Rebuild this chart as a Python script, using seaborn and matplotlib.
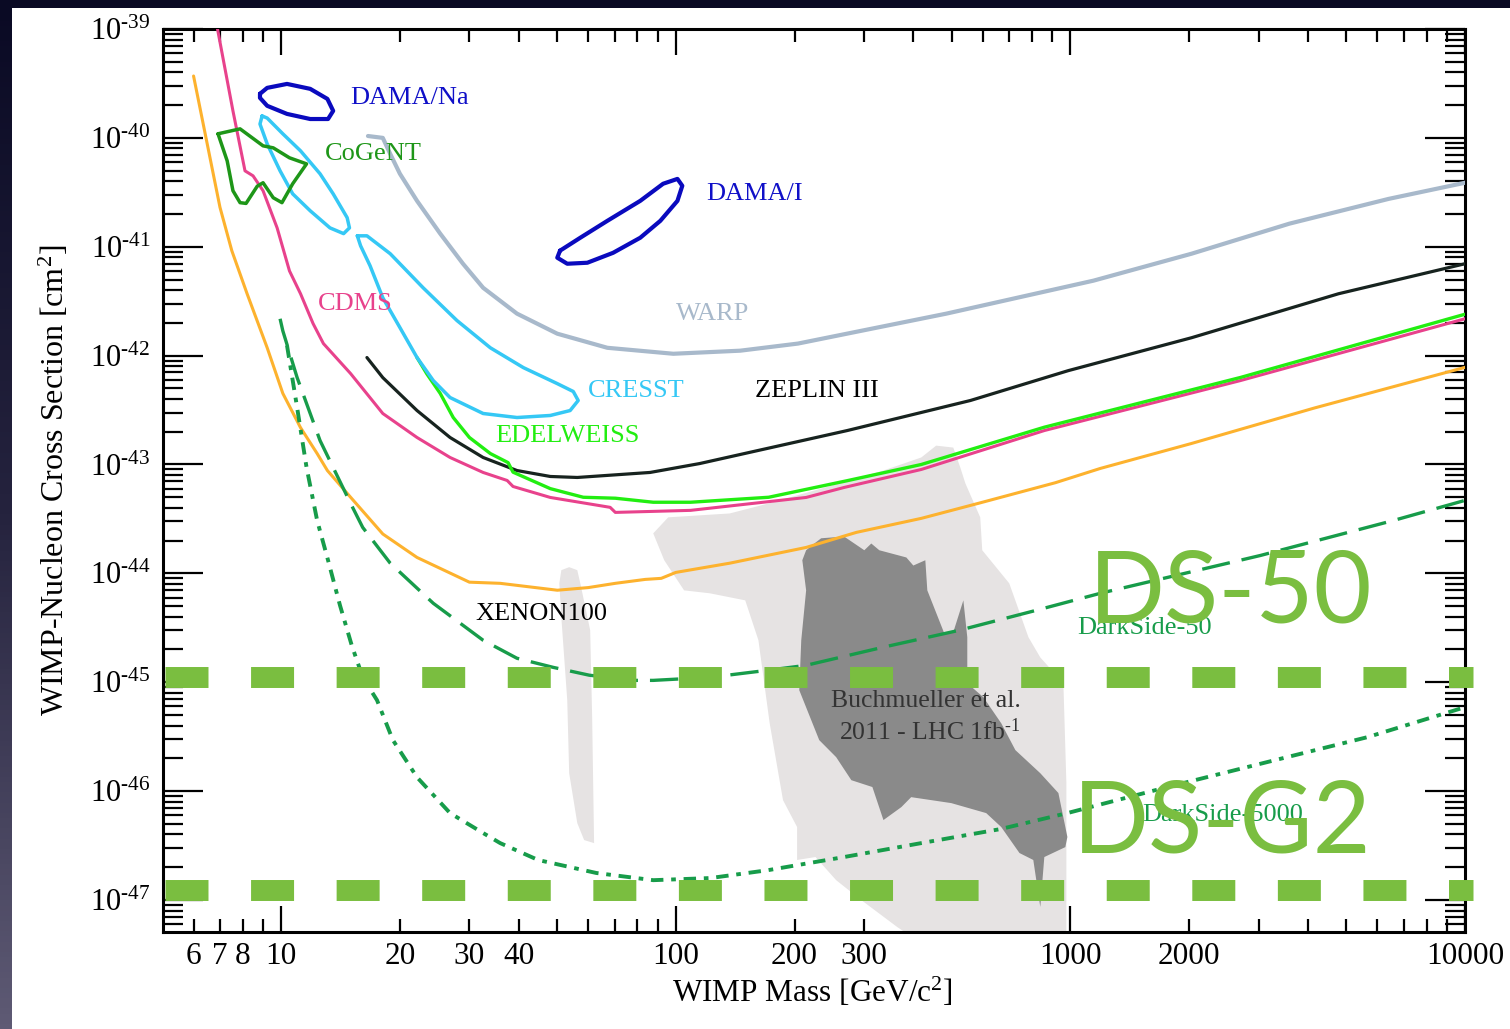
import numpy as np
import matplotlib
matplotlib.use("Agg")
import matplotlib.pyplot as plt
import seaborn as sns
from matplotlib.patches import Rectangle
from matplotlib.colors import LinearSegmentedColormap
from matplotlib.ticker import LogLocator, NullFormatter

sns.set_theme(style="ticks")
plt.rcParams["font.family"] = ["Liberation Serif", "DejaVu Serif"]
plt.rcParams["mathtext.fontset"] = "custom"
plt.rcParams["mathtext.rm"] = "Liberation Serif"
plt.rcParams["mathtext.it"] = "Liberation Serif:italic"

# ---- limit curves (mass in GeV, cross section in cm^2) ----
xenon_m = [6.0, 7.0, 7.5, 8.2, 9.22, 10.1, 11.2, 12.34, 13.1, 15.0, 18.1, 22.1, 30.0, 35.9, 50.1, 60.0,
           70.3, 83.7, 91.9, 100, 137, 214, 287, 419, 585, 916, 1191, 2028, 4150, 10000]
xenon_s = [3.7e-40, 2.3e-41, 9.2e-42, 3.7e-42, 1.18e-42, 4.5e-43, 2.18e-43, 1.26e-43, 8.8e-44, 5.0e-44,
           2.3e-44, 1.4e-44, 8.3e-45, 8.1e-45, 7.0e-45, 7.4e-45, 8.1e-45, 8.8e-45, 9.0e-45, 1.02e-44,
           1.24e-44, 1.73e-44, 2.38e-44, 3.2e-44, 4.4e-44, 6.8e-44, 9.2e-44, 1.56e-43, 3.3e-43, 7.8e-43]

cdms_m = [6.9, 7.55, 8.1, 8.49, 9.0, 9.77, 10.5, 11.2, 12.05, 12.8, 15.0, 18.1, 22.1, 26.8, 32.5,
          37.4, 38.7, 48.1, 68.2, 70.3, 109, 214, 267, 419, 859, 2698, 10000]
cdms_s = [1.0e-39, 1.77e-40, 4.98e-41, 4.48e-41, 3.27e-41, 1.49e-41, 6.0e-42, 3.7e-42, 1.97e-42,
          1.29e-42, 6.84e-43, 2.94e-43, 1.77e-43, 1.16e-43, 8.45e-44, 7.13e-44, 6.28e-44, 4.98e-44,
          4.04e-44, 3.63e-44, 3.79e-44, 4.98e-44, 6.15e-44, 9.0e-44, 2.05e-43, 5.9e-43, 2.18e-42]

edel_m = [22.1, 23.4, 25.3, 27.3, 30.0, 33.9, 37.6, 38.7, 48.1, 58.3, 70.3, 87.7, 109, 172, 272,
          419, 859, 2698, 10000]
edel_s = [9.6e-43, 6.8e-43, 4.5e-43, 2.7e-43, 1.77e-43, 1.26e-43, 1.04e-43, 8.5e-44, 6.0e-44,
          5.0e-44, 4.9e-44, 4.5e-44, 4.5e-44, 5.0e-44, 7.1e-44, 1.0e-43, 2.2e-43, 6.3e-43, 2.4e-42]

zeplin_m = [16.5, 18.1, 22.1, 26.8, 32.5, 39.6, 48.1, 56.3, 86.1, 115, 272, 558, 988, 2028, 4780, 10000]
zeplin_s = [9.6e-43, 6.28e-43, 3.13e-43, 1.77e-43, 1.16e-43, 8.8e-44, 7.76e-44, 7.6e-44, 8.45e-44,
            1.02e-43, 2.05e-43, 3.87e-43, 7.28e-43, 1.46e-42, 3.7e-42, 6.98e-42]

warp_m = [16.6, 18.1, 18.9, 20.0, 22.1, 25.3, 28.9, 32.5, 39.6, 50.1, 67.1, 98.6, 145.7, 204, 485,
          1144, 2028, 3590, 6400, 10000]
warp_s = [1.04e-40, 1.0e-40, 7.13e-41, 4.68e-41, 2.64e-41, 1.32e-41, 6.98e-42, 4.2e-42, 2.43e-42,
          1.59e-42, 1.18e-42, 1.04e-42, 1.11e-42, 1.29e-42, 2.43e-42, 4.88e-42, 8.63e-42, 1.63e-41,
          2.75e-41, 3.87e-41]

ds50_m = [9.94, 10.1, 10.98, 12.55, 15.0, 16.1, 18.9, 24.3, 32.5, 39.6, 48.9, 60.4, 78.9, 87.7,
          122.4, 171.6, 214, 336, 523, 820, 1191, 3031, 6587, 10000]
ds50_s = [2.18e-42, 1.69e-42, 6.28e-43, 1.66e-43, 4.39e-44, 2.64e-44, 1.24e-44, 5.31e-45, 2.43e-45,
          1.66e-45, 1.37e-45, 1.16e-45, 1.04e-45, 1.04e-45, 1.11e-45, 1.29e-45, 1.43e-45, 2.10e-45,
          3.0e-45, 4.58e-45, 6.56e-45, 1.46e-44, 3.06e-44, 4.68e-44]

ds5000_m = [10.35, 10.98, 11.6, 12.34, 13.15, 14.1, 15.1, 16.1, 17.5, 19.2, 22.1, 26.8, 32.5, 35.9,
            44.8, 62.9, 87.7, 122.4, 171.6, 267, 419, 665, 982, 1762, 3158, 5660, 10000]
ds5000_s = [1.24e-42, 3.33e-43, 9.4e-44, 3.06e-44, 1.32e-44, 5.08e-45, 2.18e-45, 1.11e-45, 6.84e-46,
            2.94e-46, 1.34e-46, 6.28e-47, 4.12e-47, 3.33e-47, 2.33e-47, 1.77e-47, 1.52e-47, 1.59e-47,
            1.88e-47, 2.48e-47, 3.33e-47, 4.48e-47, 6.28e-47, 1.09e-46, 1.85e-46, 3.13e-46, 5.9e-46]

# ---- signal regions (closed contours) ----
cresst1_m = [8.95, 8.84, 9.22, 9.94, 10.7, 11.85, 13.3, 14.4, 14.9, 14.7, 13.55, 12.55, 11.2, 10.1, 9.22]
cresst1_s = [1.59e-40, 1.34e-40, 8.8e-41, 4.98e-41, 3.06e-41, 2.14e-41, 1.49e-41, 1.32e-41, 1.49e-41,
             1.85e-41, 3.06e-41, 4.68e-41, 7.6e-41, 1.09e-40, 1.52e-40]
cresst2_m = [15.6, 16.5, 18.9, 22.9, 27.9, 33.9, 41.1, 50.1, 55.0, 56.6, 54.0, 48.1, 39.6, 32.5, 26.8,
             24.3, 22.1, 20.0, 18.1, 16.8, 15.9]
cresst2_s = [1.26e-41, 1.26e-41, 8.63e-42, 4.2e-42, 2.1e-42, 1.18e-42, 7.76e-43, 5.53e-43, 4.68e-43,
             3.87e-43, 3.13e-43, 2.82e-43, 2.70e-43, 2.94e-43, 4.12e-43, 5.9e-43, 9.6e-43, 1.81e-42,
             3.4e-42, 6.7e-42, 1.02e-41]
cogent_m = [6.92, 7.87, 9.0, 9.55, 10.5, 11.6, 10.7, 10.05, 9.55, 9.0, 8.7, 8.15, 7.87, 7.55, 7.3]
cogent_s = [1.09e-40, 1.21e-40, 8.45e-41, 8.1e-41, 6.56e-41, 5.77e-41, 3.79e-41, 2.54e-41, 2.82e-41,
            3.87e-41, 3.6e-41, 2.5e-41, 2.54e-41, 3.27e-41, 6.15e-41]
dama_na_m = [8.84, 9.22, 10.35, 11.85, 13.1, 13.55, 13.15, 11.85, 10.35, 9.22, 8.84]
dama_na_s = [2.54e-40, 2.88e-40, 3.13e-40, 2.82e-40, 2.28e-40, 1.77e-40, 1.49e-40, 1.49e-40, 1.66e-40,
             1.97e-40, 2.33e-40]
dama_i_m = [50.9, 57.3, 67.1, 81.3, 92.9, 101, 103.9, 101, 91.4, 81.3, 69.4, 59.7, 53.1, 50.1]
dama_i_s = [9.2e-42, 1.21e-41, 1.73e-41, 2.64e-41, 3.79e-41, 4.2e-41, 3.63e-41, 2.64e-41, 1.73e-41,
            1.21e-41, 8.8e-42, 7.13e-42, 6.98e-42, 7.93e-42]

# ---- LHC (Buchmueller et al.) regions ----
lhc_outer_m = [87.7, 95.7, 137, 172, 239, 336, 419, 457, 505, 526, 542, 591, 598, 700, 783, 839, 960,
               977, 977, 419, 364, 295, 255, 226, 203, 203, 187, 173, 162, 150, 122, 105, 93.5]
lhc_outer_s = [2.33e-44, 3.27e-44, 3.55e-44, 4.39e-44, 6.15e-44, 8.8e-44, 1.16e-43, 1.49e-43, 1.43e-43,
               9.4e-44, 6.7e-44, 3.27e-44, 1.63e-44, 8.1e-45, 2.59e-45, 1.69e-45, 9.8e-46, 1.18e-46,
               4e-48, 4e-48, 5.65e-48, 1.0e-47, 1.52e-47, 2.48e-47, 2.33e-47, 4.68e-47, 8.26e-47,
               4.2e-46, 2.43e-45, 5.65e-45, 6.56e-45, 6.98e-45, 1.32e-44]
lhc_inner_m = [224.5, 233.6, 267, 300.5, 313, 328, 384, 400, 429, 434, 479, 505, 535.6, 548, 548, 602,
               668, 725.5, 839, 932.5, 982.7, 971, 859, 839, 805.5, 743, 668, 612, 499, 395, 373, 336,
               315, 278.6, 255, 231, 205.6, 208, 214, 209.3, 214]
lhc_inner_s = [1.88e-44, 2.10e-44, 2.18e-44, 1.63e-44, 1.88e-44, 1.63e-44, 1.40e-44, 1.18e-44, 1.32e-44,
               6.98e-45, 2.82e-45, 2.88e-45, 5.65e-45, 2.59e-45, 9.8e-46, 7.28e-46, 4.2e-46, 2.38e-46,
               1.46e-46, 9.6e-47, 3.79e-47, 3.06e-47, 2.48e-47, 8.63e-48, 2.33e-47, 2.70e-47, 4.68e-47,
               6.28e-47, 7.76e-47, 8.8e-47, 7.13e-47, 5.42e-47, 1.09e-46, 1.26e-46, 2.05e-46, 2.94e-46,
               8.45e-46, 2.43e-45, 6.98e-45, 1.32e-44, 1.63e-44]
strip_m = [50.7, 51.3, 53.7, 56.3, 57.3, 60.7, 61.4, 62.1, 58.6, 56.3, 53.7, 53.1, 51.3]
strip_s = [8.1e-45, 1.07e-44, 1.14e-44, 1.07e-44, 8.1e-45, 3.0e-45, 4.78e-46, 3.33e-47, 3.55e-47,
           5.08e-47, 1.46e-46, 6.84e-46, 3.94e-45]

# ---- projected sensitivities (DS-50, DS-G2) ----
band_m = [5.08, 10450]
band_ds50 = 1.11e-45
band_dsg2 = 1.23e-47

# ---- axis ticks ----
x_major = [10, 100, 1000, 10000]
x_major_labels = ["10", "100", "1000", "10000"]
x_minor = [6, 7, 8, 9, 20, 30, 40, 50, 60, 70, 80, 90, 200, 300, 400, 500, 600, 700, 800, 900,
           2000, 3000, 4000, 5000, 6000, 7000, 8000, 9000]
x_minor_labels = ["6", "7", "8", "", "20", "30", "40", "", "", "", "", "", "200", "300", "", "", "",
                  "", "", "", "2000", "", "", "", "", "", "", ""]
y_exps = list(range(-47, -38))

fig = plt.figure(figsize=(15.1, 10.29), dpi=100)

# dark slide frame with white panel
bg = fig.add_axes([0, 0, 1, 1], zorder=-10)
shade = np.linspace(0, 1, 200).reshape(-1, 1)
frame_cmap = LinearSegmentedColormap.from_list("frame", ["#0a0a24", "#25233e", "#5e5a74"])
bg.imshow(shade, aspect="auto", extent=[0, 1, 0, 1], origin="upper", cmap=frame_cmap)
bg.add_patch(Rectangle((12 / 1510, 0), 1, 1 - 8 / 1029, facecolor="white", edgecolor="none"))
bg.set_xlim(0, 1)
bg.set_ylim(0, 1)
bg.axis("off")

ax = fig.add_axes([163 / 1510, 97 / 1029, 1302 / 1510, 903 / 1029])
ax.set_xscale("log")
ax.set_yscale("log")
ax.set_facecolor("white")

# regions
ax.fill(lhc_outer_m, lhc_outer_s, color="#e6e3e3", lw=0, zorder=1)
ax.fill(strip_m, strip_s, color="#e6e3e3", lw=0, zorder=1)
ax.fill(lhc_inner_m, lhc_inner_s, color="#8a8a8a", lw=0, zorder=1.1)


def curve(m, s, color, lw, closed=False, ls="-", z=3):
    m = list(m)
    s = list(s)
    if closed:
        m = m + m[:1]
        s = s + s[:1]
    sns.lineplot(x=m, y=s, sort=False, estimator=None, color=color, lw=lw,
                 linestyle=ls, ax=ax, zorder=z)


curve(warp_m, warp_s, "#a8b9cb", 3.0)
curve(xenon_m, xenon_s, "#fdb22e", 2.2)
curve(cdms_m, cdms_s, "#e8428c", 2.2)
curve(zeplin_m, zeplin_s, "#17231f", 2.3)
curve(edel_m, edel_s, "#22ee11", 2.4)
curve(cresst1_m, cresst1_s, "#35c8f5", 2.5, closed=True)
curve(cresst2_m, cresst2_s, "#35c8f5", 2.5, closed=True)
curve(cogent_m, cogent_s, "#1e9618", 2.5, closed=True)
curve(dama_na_m, dama_na_s, "#0a0abe", 3.0, closed=True)
curve(dama_i_m, dama_i_s, "#0a0abe", 3.0, closed=True)
curve(ds50_m, ds50_s, "#179c4a", 2.4, ls=(0, (8.5, 3.6)))
curve(ds5000_m, ds5000_s, "#179c4a", 2.8, ls=(0, (3.2, 2.0, 1.2, 2.0)))

# projected sensitivity bands
for level in (band_ds50, band_dsg2):
    ax.plot(band_m, [level, level], color="#7abe40", lw=15.1, linestyle=(0, (2.05, 2.03)),
            dash_capstyle="butt", solid_capstyle="butt", clip_on=False, zorder=6)

# labels
lab = dict(fontsize=19, ha="left", va="center", zorder=4)
ax.text(14.96, 2.33e-40, "DAMA/Na", color="#1010c8", **lab)
ax.text(12.9, 7.13e-41, "CoGeNT", color="#1e9618", **lab)
ax.text(119.5, 3.06e-41, "DAMA/I", color="#1010c8", **lab)
ax.text(12.4, 3.0e-42, "CDMS", color="#e8428c", **lab)
ax.text(100, 2.43e-42, "WARP", color="#a8b9cb", **lab)
ax.text(60, 4.78e-43, "CRESST", color="#35c8f5", **lab)
ax.text(159, 4.78e-43, "ZEPLIN III", color="black", **lab)
ax.text(34.9, 1.81e-43, "EDELWEISS", color="#22ee11", **lab)
ax.text(31, 4.2e-45, "XENON100", color="black", **lab)
ax.text(431, 6.7e-46, "Buchmueller et al.", color="#333333", fontsize=18.5, ha="center",
        va="center", zorder=4)
ax.text(439, 3.48e-46, r"2011 - LHC 1fb$^{\text{-}1}$", color="#333333", fontsize=18.5,
        ha="center", va="center", zorder=4)
ax.text(1042, 3.13e-45, "DarkSide-50", color="#179c4a", **lab)
ax.text(1522, 6.03e-47, "DarkSide-5000", color="#179c4a", **lab)

big = dict(fontsize=72, color="#7abe40", ha="left", va="baseline", zorder=7,
           family=["Lato", "DejaVu Sans"])
ax.text(1111, 3.55e-45, "DS-50", **big)
ax.text(1012, 2.75e-47, "DS-G2", **big)

# axes
ax.set_xlim(5.02, 1e4)
ax.set_ylim(5.08e-48, 1e-39)
ax.set_xticks(x_major)
ax.set_xticklabels(x_major_labels)
ax.set_xticks(x_minor, minor=True)
ax.set_xticklabels(x_minor_labels, minor=True)
ax.set_yticks([10.0 ** e for e in y_exps])
ax.set_yticklabels([r"$10^{\text{-}%d}$" % abs(e) for e in y_exps])
ax.yaxis.set_minor_locator(LogLocator(base=10, subs=np.arange(2, 10), numticks=100))
ax.yaxis.set_minor_formatter(NullFormatter())

ax.tick_params(axis="both", which="both", direction="in", top=True, right=True,
               colors="black", width=1.6)
ax.tick_params(axis="y", which="major", length=28.8, pad=9, labelsize=22)
ax.tick_params(axis="y", which="minor", length=14.4)
ax.tick_params(axis="x", which="major", length=18.7, pad=7, labelsize=22.5)
ax.tick_params(axis="x", which="minor", length=9.4, pad=7, labelsize=22.5)
for sp in ax.spines.values():
    sp.set_color("black")
    sp.set_linewidth(2.2)

ax.set_xlabel(r"WIMP Mass [GeV/c$^2$]", fontsize=22.5, color="black")
ax.xaxis.set_label_coords(0.4985, -0.049)
ax.set_ylabel(r"WIMP-Nucleon Cross Section [cm$^2$]", fontsize=23, color="black")
ax.yaxis.set_label_coords(-0.071, 0.5)

fig.savefig("out.png", dpi=100)
